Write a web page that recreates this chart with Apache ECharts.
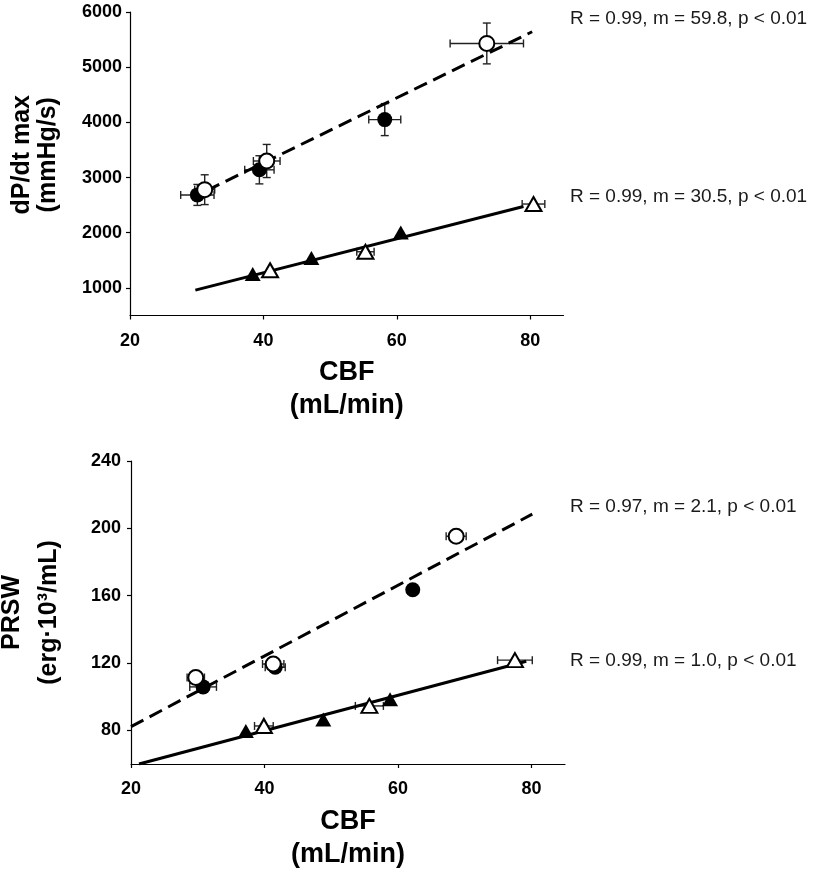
<!DOCTYPE html>
<html>
<head>
<meta charset="utf-8">
<script src="https://cdn.jsdelivr.net/npm/echarts@6/dist/echarts.min.js"></script>
<style>
  html, body { margin: 0; padding: 0; background: #fff; }
  #main { width: 815px; height: 873px; }
</style>
</head>
<body>
<div id="main"></div>
<script>
// ---------- Axis ticks ----------
const cbfTicks = [20, 40, 60, 80];
const dpTicks = [1000, 2000, 3000, 4000, 5000, 6000];
const prswTicks = [80, 120, 160, 200, 240];

// ---------- Top panel: dP/dt max vs CBF ----------
const dpFilledCircleCBF    = [30.1, 39.4, 58.2];
const dpFilledCircleVal    = [2685, 3140, 4050];
const dpFilledCircleCBFErr = [2.5, 2.2, 2.4];
const dpFilledCircleValErr = [190, 255, 290];

const dpOpenCircleCBF      = [31.2, 40.5, 73.5];
const dpOpenCircleVal      = [2780, 3300, 5430];
const dpOpenCircleCBFErr   = [1.5, 2.0, 5.5];
const dpOpenCircleValErr   = [270, 300, 370];

const dpFilledTriCBF       = [38.4, 47.2, 60.6];
const dpFilledTriVal       = [1250, 1540, 2005];

const dpOpenTriCBF         = [41.0, 55.3, 80.5];
const dpOpenTriVal         = [1320, 1655, 2520];
const dpOpenTriCBFErr      = [0, 1.3, 1.7];

const dpFitDashedCBF = [31.5, 80.3];
const dpFitDashedVal = [2764, 5642];
const dpFitSolidCBF  = [29.8, 79.0];
const dpFitSolidVal  = [960, 2475];

// ---------- Bottom panel: PRSW vs CBF ----------
const prFilledCircleCBF    = [30.8, 41.6, 62.2];
const prFilledCircleVal    = [105.8, 117.5, 163.5];
const prFilledCircleCBFErr = [2.0, 1.5, 0];

const prOpenCircleCBF      = [29.7, 41.3, 68.7];
const prOpenCircleVal      = [111.4, 119.4, 195.3];
const prOpenCircleCBFErr   = [1.3, 1.6, 1.5];

const prFilledTriCBF       = [37.2, 48.8, 58.8];
const prFilledTriVal       = [79.6, 86.5, 98.5];

const prOpenTriCBF         = [39.9, 55.7, 77.5];
const prOpenTriVal         = [82.6, 94.5, 121.7];
const prOpenTriCBFErr      = [1.4, 2.1, 2.6];

const prFitDashedCBF = [20.0, 80.1];
const prFitDashedVal = [82.2, 208.4];
const prFitSolidCBF  = [21.2, 79.2];
const prFitSolidVal  = [60, 121];

// ---------- Annotation texts ----------
const statTexts = [
  'R = 0.99, m = 59.8, p < 0.01',
  'R = 0.99, m = 30.5, p < 0.01',
  'R = 0.97, m = 2.1, p < 0.01',
  'R = 0.99, m = 1.0, p < 0.01'
];

// ---------- helpers ----------
const FONT = '"Liberation Sans", Arial, Helvetica, sans-serif';
function zip(xs, ys) { return xs.map((x, i) => [x, ys[i]]); }
function zipErr(xs, ys, xe, ye) {
  return xs.map((x, i) => [x, ys[i], xe ? (xe[i] || 0) : 0, ye ? (ye[i] || 0) : 0]);
}
function errRender(params, api) {
  const x = api.value(0), y = api.value(1), xe = api.value(2), ye = api.value(3);
  const cap = 4;
  const st = { stroke: '#222', lineWidth: 1.4 };
  const ch = [];
  if (xe > 0) {
    const l = api.coord([x - xe, y]), r = api.coord([x + xe, y]);
    ch.push({ type: 'line', shape: { x1: l[0], y1: l[1], x2: r[0], y2: r[1] }, style: st });
    ch.push({ type: 'line', shape: { x1: l[0], y1: l[1] - cap, x2: l[0], y2: l[1] + cap }, style: st });
    ch.push({ type: 'line', shape: { x1: r[0], y1: r[1] - cap, x2: r[0], y2: r[1] + cap }, style: st });
  }
  if (ye > 0) {
    const t = api.coord([x, y + ye]), b = api.coord([x, y - ye]);
    ch.push({ type: 'line', shape: { x1: t[0], y1: t[1], x2: b[0], y2: b[1] }, style: st });
    ch.push({ type: 'line', shape: { x1: t[0] - cap, y1: t[1], x2: t[0] + cap, y2: t[1] }, style: st });
    ch.push({ type: 'line', shape: { x1: b[0] - cap, y1: b[1], x2: b[0] + cap, y2: b[1] }, style: st });
  }
  return { type: 'group', children: ch };
}
function errSeries(idx, data) {
  return { type: 'custom', xAxisIndex: idx, yAxisIndex: idx, renderItem: errRender,
           data: data, z: 1, silent: true, encode: { x: 0, y: 1 } };
}
function scat(idx, data, symbol, filled) {
  return {
    type: 'scatter', xAxisIndex: idx, yAxisIndex: idx, data: data, z: filled ? 3 : 4,
    symbol: symbol, symbolSize: symbol === 'circle' ? 15 : [16, 14], silent: true,
    itemStyle: filled ? { color: '#000', opacity: 1 }
                      : { color: '#fff', borderColor: '#000', borderWidth: 2, opacity: 1 }
  };
}
function fitLine(idx, data, dashed) {
  return {
    type: 'line', xAxisIndex: idx, yAxisIndex: idx, data: data, z: 2, silent: true,
    symbol: 'none', lineStyle: { color: '#000', width: 3, type: dashed ? [14, 7] : 'solid' }
  };
}
const axisLineStyle = { show: true, lineStyle: { color: '#000', width: 1.2 } };
const tickLabelStyle = { color: '#000', fontSize: 18, fontWeight: 'bold', fontFamily: FONT,
                         formatter: v => String(v) };

function xAxisDef(idx, margin) {
  return {
    type: 'value', gridIndex: idx, min: 20, max: 85,
    axisLine: axisLineStyle,
    axisTick: { show: true, length: 4, lineStyle: { color: '#000', width: 1.2 }, customValues: cbfTicks },
    axisLabel: Object.assign({ margin: margin, customValues: cbfTicks }, tickLabelStyle),
    splitLine: { show: false },
    name: 'CBF\n(mL/min)', nameLocation: 'middle', nameGap: 41,
    nameTextStyle: { color: '#000', fontSize: 27, fontWeight: 'bold', fontFamily: FONT, lineHeight: 33 }
  };
}
function yAxisDef(idx, min, max, ticks, name, gap, lh, pad, margin) {
  return {
    type: 'value', gridIndex: idx, min: min, max: max,
    axisLine: axisLineStyle,
    axisTick: { show: true, length: 4, lineStyle: { color: '#000', width: 1.2 }, customValues: ticks },
    axisLabel: Object.assign({ margin: margin, customValues: ticks }, tickLabelStyle),
    splitLine: { show: false },
    name: name, nameLocation: 'middle', nameGap: gap,
    nameTextStyle: { color: '#000', fontSize: 25, fontWeight: 'bold', fontFamily: FONT,
                     lineHeight: lh, padding: pad }
  };
}

const chart = echarts.init(document.getElementById('main'), null, { renderer: 'canvas' });
const option = {
  animation: false,
  backgroundColor: '#fff',
  grid: [
    { left: 130, top: 12, right: 251.5, bottom: 557.5, outerBoundsMode: 'none', containLabel: false },
    { left: 131, top: 461, right: 250, bottom: 109, outerBoundsMode: 'none', containLabel: false }
  ],
  xAxis: [ xAxisDef(0, 17), xAxisDef(1, 16) ],
  yAxis: [
    yAxisDef(0, 500, 6000, dpTicks, 'dP/dt max\n(mmHg/s)', 69, 26, [0, 0, 0, 18], 8),
    yAxisDef(1, 60, 240, prswTicks, 'PRSW\n(erg·10³/mL)', 63, 37, [0, 0, 0, 0], 10)
  ],
  series: [
    // top
    errSeries(0, zipErr(dpFilledCircleCBF, dpFilledCircleVal, dpFilledCircleCBFErr, dpFilledCircleValErr)),
    errSeries(0, zipErr(dpOpenCircleCBF, dpOpenCircleVal, dpOpenCircleCBFErr, dpOpenCircleValErr)),
    errSeries(0, zipErr(dpOpenTriCBF, dpOpenTriVal, dpOpenTriCBFErr, null)),
    fitLine(0, zip(dpFitDashedCBF, dpFitDashedVal), true),
    fitLine(0, zip(dpFitSolidCBF, dpFitSolidVal), false),
    scat(0, zip(dpFilledCircleCBF, dpFilledCircleVal), 'circle', true),
    scat(0, zip(dpOpenCircleCBF, dpOpenCircleVal), 'circle', false),
    scat(0, zip(dpFilledTriCBF, dpFilledTriVal), 'triangle', true),
    scat(0, zip(dpOpenTriCBF, dpOpenTriVal), 'triangle', false),
    // bottom
    errSeries(1, zipErr(prFilledCircleCBF, prFilledCircleVal, prFilledCircleCBFErr, null)),
    errSeries(1, zipErr(prOpenCircleCBF, prOpenCircleVal, prOpenCircleCBFErr, null)),
    errSeries(1, zipErr(prOpenTriCBF, prOpenTriVal, prOpenTriCBFErr, null)),
    fitLine(1, zip(prFitDashedCBF, prFitDashedVal), true),
    fitLine(1, zip(prFitSolidCBF, prFitSolidVal), false),
    scat(1, zip(prFilledCircleCBF, prFilledCircleVal), 'circle', true),
    scat(1, zip(prOpenCircleCBF, prOpenCircleVal), 'circle', false),
    scat(1, zip(prFilledTriCBF, prFilledTriVal), 'triangle', true),
    scat(1, zip(prOpenTriCBF, prOpenTriVal), 'triangle', false)
  ],
  graphic: [19, 197, 507, 661].map((y, i) => ({
    type: 'text', x: 570, y: y, silent: true,
    style: { text: statTexts[i], fill: '#1a1a1a', fontSize: 19, fontFamily: FONT,
             align: 'left', verticalAlign: 'middle' }
  }))
};
chart.setOption(option);
</script>
</body>
</html>
